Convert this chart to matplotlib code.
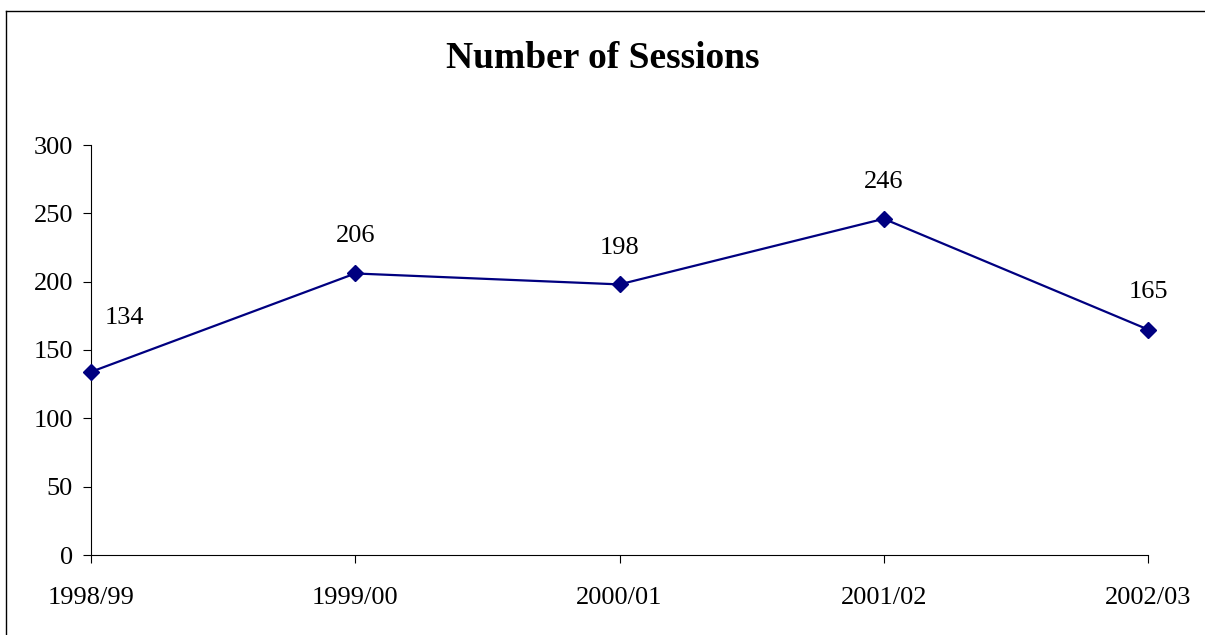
import matplotlib.pyplot as plt
from matplotlib.lines import Line2D

years = ['1998/99', '1999/00', '2000/01', '2001/02', '2002/03']
sessions = [134, 206, 198, 246, 165]
# label offsets in pixels (dx, dy), as Excel placed them
offsets = [(33, 54), (0, 37), (0, 36), (0, 37), (0, 38)]

plt.rcParams['font.family'] = ['Liberation Serif', 'DejaVu Serif']

W, H = 1205, 635
fig = plt.figure(figsize=(W/100, H/100), dpi=100)
ax = fig.add_axes([91/W, 1-555/H, (1148-91)/W, (555-145)/H])

x = list(range(len(years)))
ax.plot(x, sessions, color='#000080', linewidth=1.6, marker='D', markersize=8,
        markerfacecolor='#000080', markeredgecolor='#000080', clip_on=False, zorder=3)

for i, v in enumerate(sessions):
    dx, dy = offsets[i]
    ax.annotate(str(v), (x[i], v), xytext=(dx*0.72, dy*0.72), textcoords='offset points',
                ha='center', va='center', fontsize=19)

ax.set_xlim(0, len(years)-1)
ax.set_ylim(0, 300)
ax.set_yticks(range(0, 301, 50))
ax.set_xticks(x)
ax.set_xticklabels(years)
ax.tick_params(axis='both', labelsize=19, direction='out', length=6, width=0.8, color='black')
ax.tick_params(axis='x', pad=17)
ax.tick_params(axis='y', pad=7)

for s in ['top', 'right']:
    ax.spines[s].set_visible(False)
for s in ['left', 'bottom']:
    ax.spines[s].set_linewidth(0.8)

fig.text(0.5, 1-59/H, 'Number of Sessions', ha='center', va='center',
         fontsize=27, fontweight='bold')

# chart-area border: only left and top edges visible in the image
fig.add_artist(Line2D([6/W, 6/W], [0, 1-11/H], transform=fig.transFigure, color='black', linewidth=1))
fig.add_artist(Line2D([6/W, 1], [1-11/H, 1-11/H], transform=fig.transFigure, color='black', linewidth=1))

fig.savefig('out.png', dpi=100)
